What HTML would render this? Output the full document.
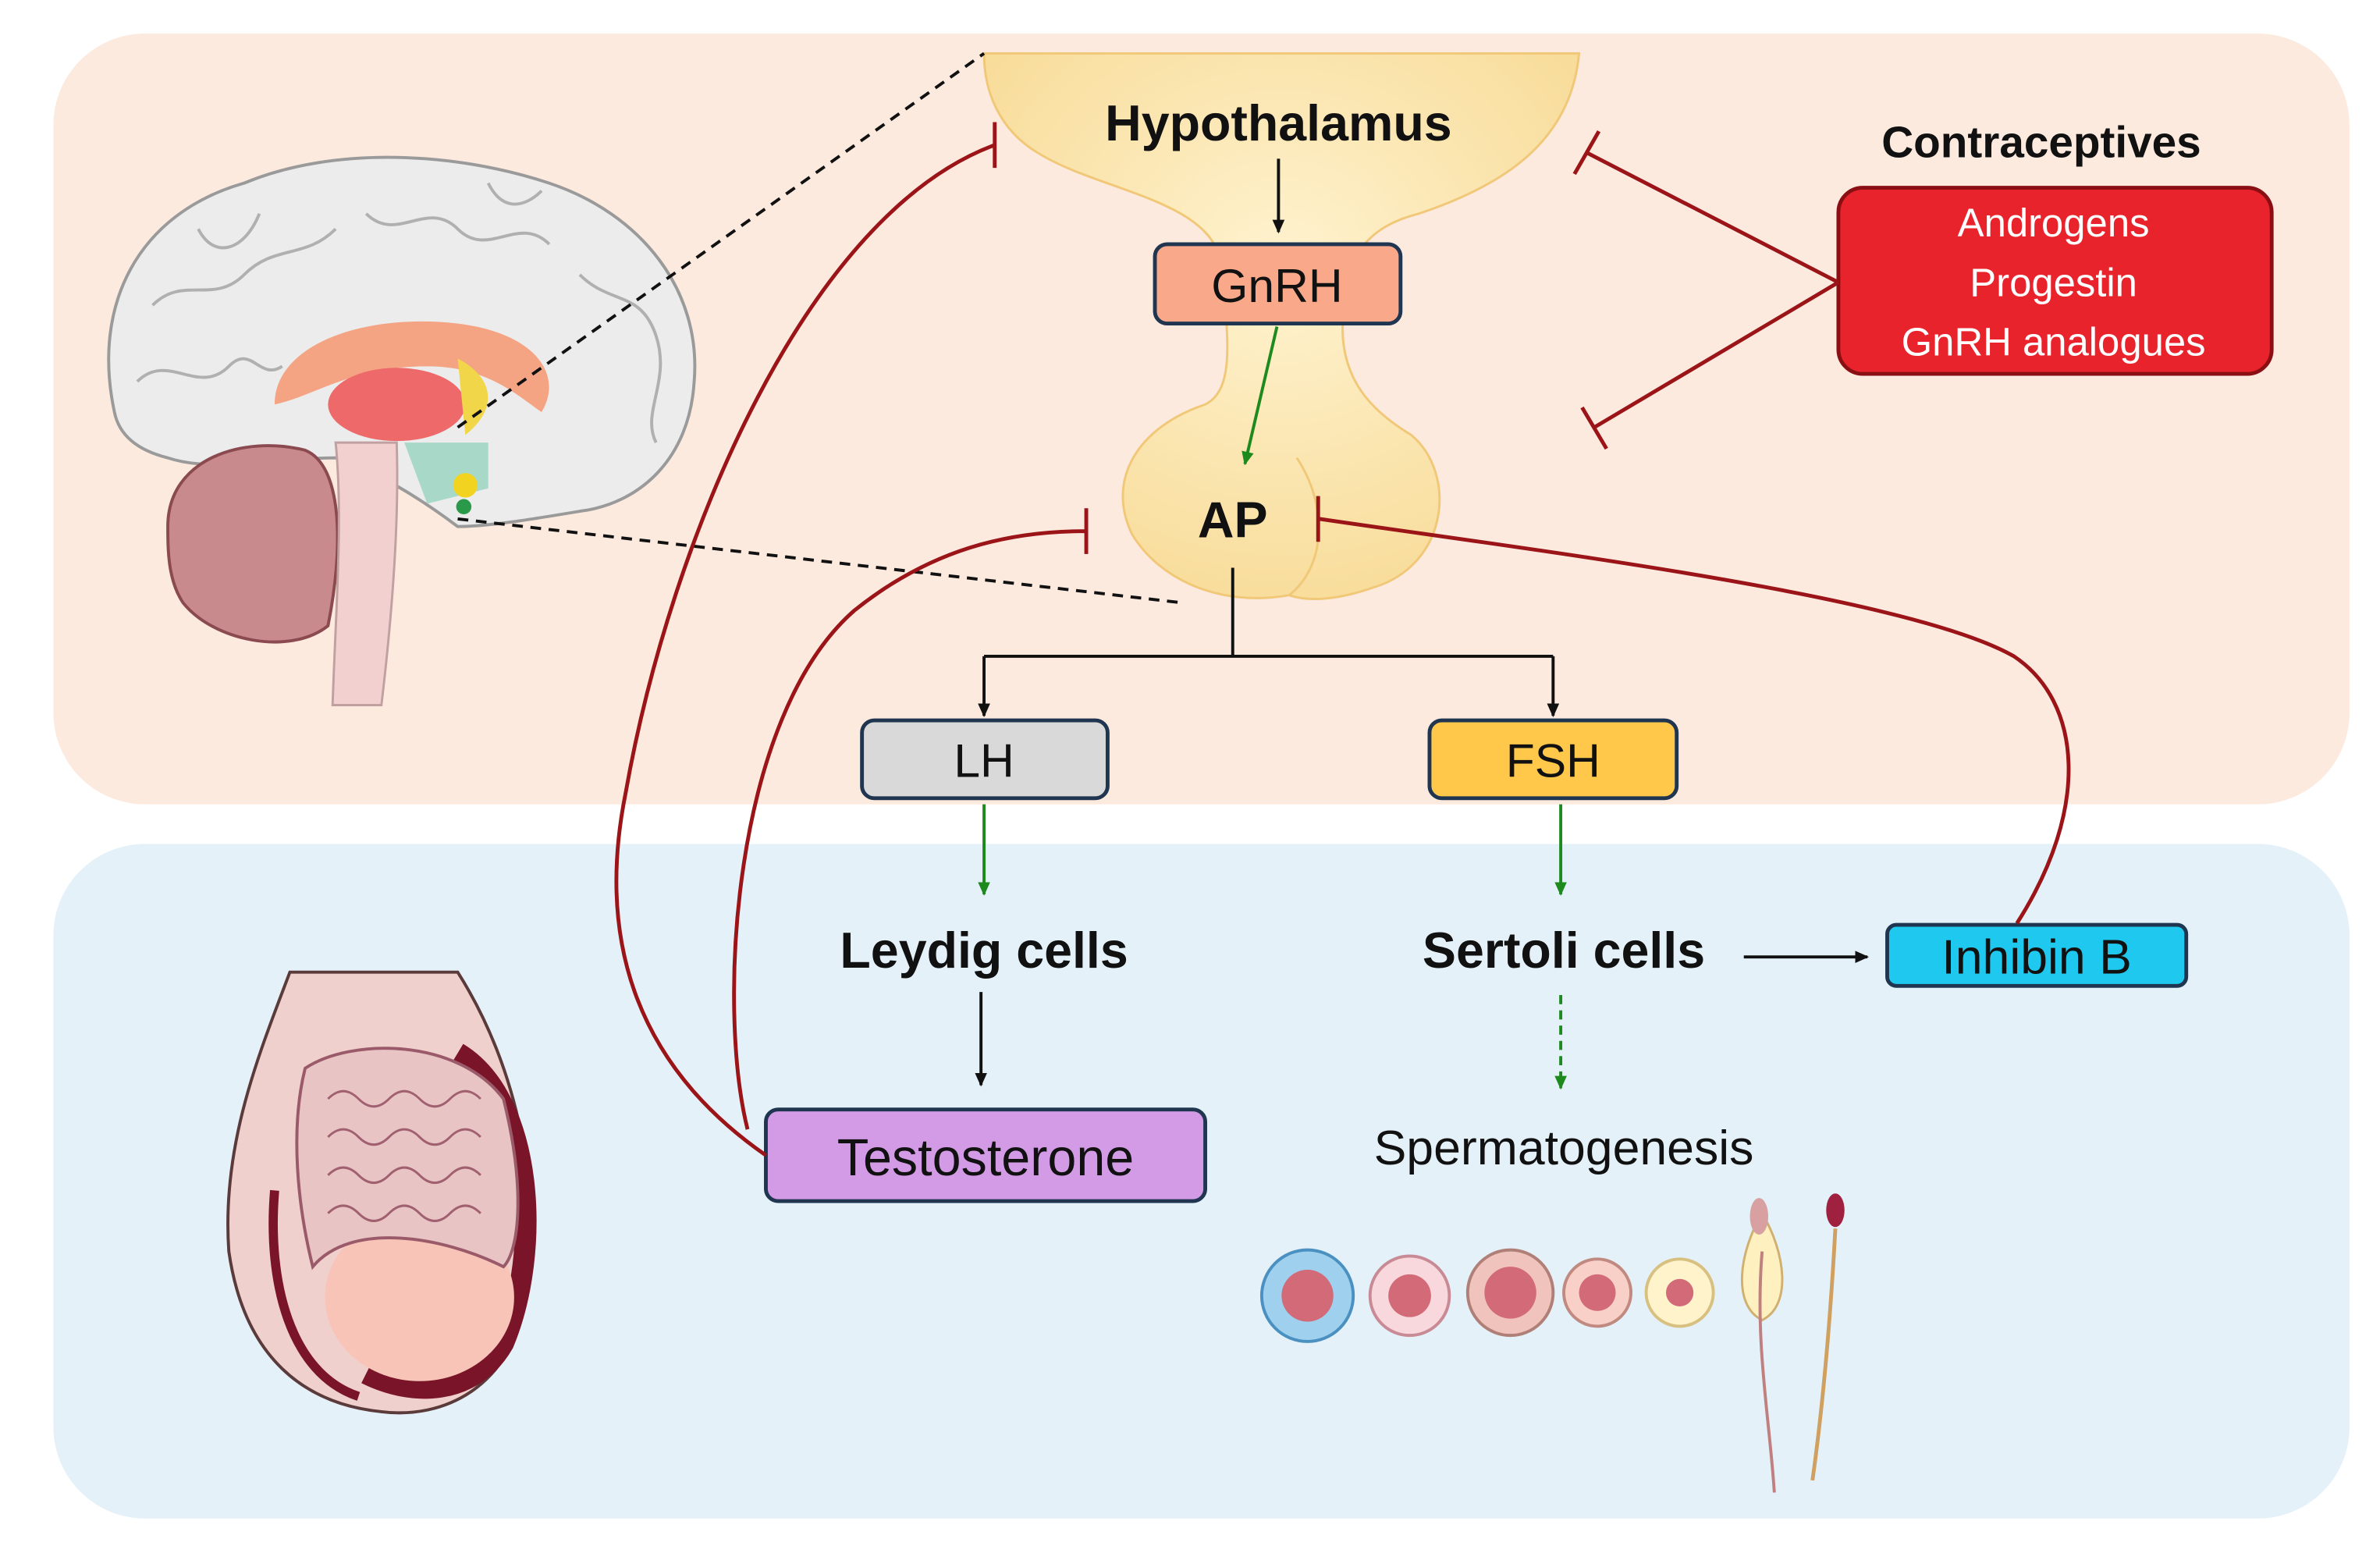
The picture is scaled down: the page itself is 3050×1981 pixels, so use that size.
<!DOCTYPE html>
<html><head><meta charset="utf-8"><style>
html,body{margin:0;padding:0;background:#fff;}
svg{display:block;}
text{font-family:"Liberation Sans","DejaVu Sans",sans-serif;}
</style></head><body>
<svg width="3050" height="1981" viewBox="0 0 1560 1013" xmlns="http://www.w3.org/2000/svg" preserveAspectRatio="none">
<defs>
<marker id="ab" markerWidth="10" markerHeight="10" refX="8" refY="5" orient="auto" markerUnits="userSpaceOnUse"><path d="M0,1 L9,5 L0,9 Z" fill="#111"/></marker>
<marker id="ag" markerWidth="10" markerHeight="10" refX="8" refY="5" orient="auto" markerUnits="userSpaceOnUse"><path d="M0,1 L9,5 L0,9 Z" fill="#1e8a1e"/></marker>
<radialGradient id="hy" cx="0.5" cy="0.4" r="0.7"><stop offset="0" stop-color="#fff3d0"/><stop offset="1" stop-color="#f7d993"/></radialGradient>
</defs>
<rect x="35" y="22" width="1505" height="505" rx="60" fill="#fdeadf"/>
<rect x="35" y="553" width="1505" height="442" rx="60" fill="#e5f1f9"/>

<!-- hypothalamus/pituitary -->
<path d="M645,35 L1035,35 C1030,90 990,120 930,140 C890,150 880,175 880,215 C880,250 900,270 925,285 C955,310 950,370 900,385 C880,392 860,395 845,390 C800,398 760,380 742,350 C725,315 745,280 790,265 C810,255 805,220 800,170 C790,130 720,125 680,100 C655,85 645,60 645,35 Z" fill="url(#hy)" stroke="#f0c878" stroke-width="1.5"/>
<path d="M845,390 C870,370 870,330 850,300" fill="none" stroke="#f0c878" stroke-width="1.5"/>

<!-- brain approximation -->
<path d="M75,270 C60,200 90,140 160,120 C220,95 300,100 360,120 C420,140 460,190 455,250 C452,300 420,330 380,335 C350,340 320,345 300,345 C280,330 250,310 220,300 C180,300 140,310 110,300 C90,295 78,285 75,270 Z" fill="#ececec" stroke="#9a9a9a" stroke-width="2"/>
<g fill="none" stroke="#b0b0b0" stroke-width="2">
<path d="M100,200 C120,180 140,200 160,180 C180,160 200,170 220,150"/>
<path d="M240,140 C260,160 280,130 300,150 C320,170 340,140 360,160"/>
<path d="M380,180 C400,200 420,190 430,220 C440,250 420,270 430,290"/>
<path d="M90,250 C110,230 130,260 150,240 C165,225 170,250 185,240"/>
<path d="M130,150 C140,170 160,165 170,140"/>
<path d="M320,120 C330,140 345,135 355,125"/>
</g>
<path d="M180,265 C180,225 240,205 300,212 C350,218 370,245 355,270 C340,260 320,240 280,240 C230,240 205,260 180,265 Z" fill="#f4a383"/>
<ellipse cx="260" cy="265" rx="45" ry="24" fill="#ee6a6a"/>
<path d="M300,235 C320,245 330,265 305,285" fill="#f1d64a"/>
<path d="M265,290 L320,290 L320,320 L280,330 Z" fill="#a8d8c8"/>
<circle cx="305" cy="318" r="8" fill="#f2d320"/>
<circle cx="304" cy="332" r="5" fill="#2a9a4a"/>
<path d="M110,345 C110,300 160,285 200,295 C225,305 225,360 215,410 C190,430 140,420 120,395 C110,380 110,360 110,345 Z" fill="#c98a8e" stroke="#8a4a50" stroke-width="2"/>
<path d="M220,290 L260,290 C262,350 255,420 250,462 L218,462 C220,400 225,340 220,290 Z" fill="#f3d0d0" stroke="#c0a0a0" stroke-width="1.5"/>

<!-- dashed connectors -->
<path d="M300,280 L645,35" stroke="#111" stroke-width="2" stroke-dasharray="7,5" fill="none"/>
<path d="M300,340 L775,395" stroke="#111" stroke-width="2" stroke-dasharray="7,5" fill="none"/>

<!-- testis approximation -->
<path d="M190,637 L300,637 C340,700 355,780 345,850 C335,910 290,930 250,925 C200,920 160,890 150,820 C145,750 170,690 190,637 Z" fill="#f0d0cc" stroke="#5a3a3a" stroke-width="2"/>
<path d="M300,690 C350,720 355,820 330,880 C310,915 270,915 240,900" fill="none" stroke="#7a1428" stroke-width="14"/>
<ellipse cx="275" cy="850" rx="62" ry="55" fill="#f8c4b8"/>
<path d="M200,700 C230,680 300,680 330,720 C345,780 340,820 330,830 C290,810 230,800 205,830 C195,790 190,740 200,700 Z" fill="#e8c4c4" stroke="#9a5a6a" stroke-width="2"/>
<g fill="none" stroke="#a06070" stroke-width="1.5">
<path d="M215,720 q10,-10 20,0 t20,0 t20,0 t20,0 t20,0"/>
<path d="M215,745 q10,-10 20,0 t20,0 t20,0 t20,0 t20,0"/>
<path d="M215,770 q10,-10 20,0 t20,0 t20,0 t20,0 t20,0"/>
<path d="M215,795 q10,-10 20,0 t20,0 t20,0 t20,0 t20,0"/>
</g>
<path d="M180,780 C175,840 190,900 235,915" fill="none" stroke="#7a1428" stroke-width="6"/>

<!-- text & boxes -->
<text x="838" y="92" font-size="33" font-weight="bold" text-anchor="middle" fill="#111">Hypothalamus</text>
<line x1="838" y1="104" x2="838" y2="152" stroke="#111" stroke-width="2" marker-end="url(#ab)"/>
<rect x="757" y="160" width="161" height="52" rx="8" fill="#f9a98a" stroke="#1f3550" stroke-width="2.5"/>
<text x="837" y="198" font-size="31" text-anchor="middle" fill="#111">GnRH</text>
<line x1="837" y1="214" x2="816" y2="304" stroke="#1e8a1e" stroke-width="2" marker-end="url(#ag)"/>
<text x="808" y="352" font-size="33" font-weight="bold" text-anchor="middle" fill="#111">AP</text>
<path d="M808,372 L808,430 M645,430 L1018,430" stroke="#111" stroke-width="2" fill="none"/>
<line x1="645" y1="430" x2="645" y2="469" stroke="#111" stroke-width="2" marker-end="url(#ab)"/>
<line x1="1018" y1="430" x2="1018" y2="469" stroke="#111" stroke-width="2" marker-end="url(#ab)"/>
<rect x="565" y="472" width="161" height="51" rx="8" fill="#d9d9d9" stroke="#1f3550" stroke-width="2.5"/>
<text x="645" y="509" font-size="31" text-anchor="middle" fill="#111">LH</text>
<rect x="937" y="472" width="162" height="51" rx="8" fill="#ffc84a" stroke="#1f3550" stroke-width="2.5"/>
<text x="1018" y="509" font-size="31" text-anchor="middle" fill="#111">FSH</text>
<line x1="645" y1="527" x2="645" y2="586" stroke="#1e8a1e" stroke-width="2" marker-end="url(#ag)"/>
<line x1="1023" y1="527" x2="1023" y2="586" stroke="#1e8a1e" stroke-width="2" marker-end="url(#ag)"/>
<text x="645" y="634" font-size="33" font-weight="bold" text-anchor="middle" fill="#111">Leydig cells</text>
<text x="1025" y="634" font-size="33" font-weight="bold" text-anchor="middle" fill="#111">Sertoli cells</text>
<line x1="643" y1="650" x2="643" y2="711" stroke="#111" stroke-width="2" marker-end="url(#ab)"/>
<line x1="1143" y1="627" x2="1224" y2="627" stroke="#111" stroke-width="2" marker-end="url(#ab)"/>
<rect x="1237" y="606" width="196" height="40" rx="6" fill="#1ec8ee" stroke="#1f3550" stroke-width="2.5"/>
<text x="1335" y="638" font-size="32" text-anchor="middle" fill="#111">Inhibin B</text>
<line x1="1023" y1="652" x2="1023" y2="713" stroke="#1e8a1e" stroke-width="2" stroke-dasharray="6,4" marker-end="url(#ag)"/>
<text x="1025" y="763" font-size="32" text-anchor="middle" fill="#111">Spermatogenesis</text>
<rect x="502" y="727" width="288" height="60" rx="8" fill="#d39be6" stroke="#1f3550" stroke-width="2.5"/>
<text x="646" y="770" font-size="34" text-anchor="middle" fill="#111">Testosterone</text>

<text x="1338" y="103" font-size="29" font-weight="bold" text-anchor="middle" fill="#111">Contraceptives</text>
<rect x="1205" y="123" width="284" height="122" rx="16" fill="#e8232c" stroke="#8a0f14" stroke-width="2.5"/>
<text x="1346" y="155" font-size="26" text-anchor="middle" fill="#fff">Androgens</text>
<text x="1346" y="194" font-size="26" text-anchor="middle" fill="#fff">Progestin</text>
<text x="1346" y="233" font-size="26" text-anchor="middle" fill="#fff">GnRH analogues</text>

<!-- inhibitory red lines -->
<g stroke="#9a1418" stroke-width="2.5" fill="none">
<path d="M1205,185 L1040,100 M1032,114 L1048,86"/>
<path d="M1205,185 L1045,280 M1037,267 L1053,294"/>
<path d="M502,757 C420,700 390,620 410,520 C440,350 530,140 652,95 M652,80 L652,110"/>
<path d="M490,740 C470,660 480,470 560,400 C610,360 660,348 712,348 M712,333 L712,363"/>
<path d="M1322,605 C1370,530 1365,460 1320,430 C1250,390 1000,360 865,340 M864,325 L864,355"/>
</g>

<!-- cells -->
<circle cx="857" cy="849" r="30" fill="#9fd0ee" stroke="#4a90c0" stroke-width="2"/><circle cx="857" cy="849" r="17" fill="#d26a78"/>
<circle cx="924" cy="849" r="26" fill="#f8d8dc" stroke="#c88a94" stroke-width="2"/><circle cx="924" cy="849" r="14" fill="#d26a78"/>
<circle cx="990" cy="847" r="28" fill="#f0c4bc" stroke="#b08078" stroke-width="2"/><circle cx="990" cy="847" r="17" fill="#d26a78"/>
<circle cx="1047" cy="847" r="22" fill="#f8d0c8" stroke="#c08a80" stroke-width="2"/><circle cx="1047" cy="847" r="12" fill="#d26a78"/>
<circle cx="1101" cy="847" r="22" fill="#fff3cc" stroke="#d8c080" stroke-width="2"/><circle cx="1101" cy="847" r="9" fill="#d26a78"/>
<path d="M1155,795 C1140,820 1135,855 1155,865 C1175,855 1170,820 1155,795 Z" fill="#fff0c0" stroke="#d0b070" stroke-width="1.5"/>
<ellipse cx="1153" cy="797" rx="6" ry="12" fill="#d8a0a0"/>
<path d="M1155,820 C1150,880 1160,930 1163,978" fill="none" stroke="#c08080" stroke-width="2"/>
<ellipse cx="1203" cy="793" rx="6" ry="11" fill="#a02040"/>
<path d="M1203,805 C1200,860 1195,920 1188,970" fill="none" stroke="#d0a060" stroke-width="2.5"/>
</svg>
</body></html>
